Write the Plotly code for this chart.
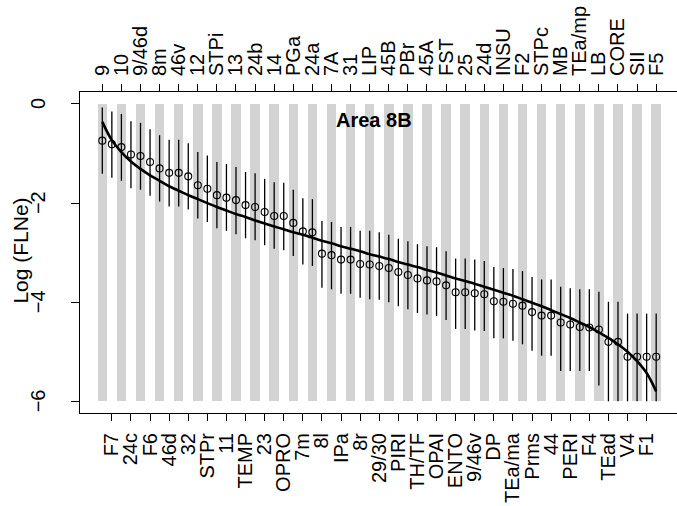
import plotly.graph_objects as go

# Source areas ordered by decreasing log(FLNe)
areas = ["9", "F7", "10", "24c", "9/46d", "F6", "8m", "46d", "46v", "32",
         "12", "STPr", "STPi", "11", "13", "TEMP", "24b", "23", "14", "OPRO",
         "PGa", "7m", "24a", "8l", "7A", "IPa", "31", "8r", "LIP", "29/30",
         "45B", "PIRI", "PBr", "TH/TF", "45A", "OPAI", "FST", "ENTO", "25", "9/46v",
         "24d", "DP", "INSU", "TEa/ma", "F2", "Prms", "STPc", "44", "MB", "PERI",
         "TEa/mp", "F4", "LB", "TEad", "CORE", "V4", "SII", "F1", "F5"]

# Mean log(FLNe) per area
mean_log = [-0.74, -0.81, -0.87, -1.02, -1.05, -1.17, -1.30, -1.39, -1.39, -1.46,
            -1.64, -1.71, -1.84, -1.89, -1.94, -2.04, -2.08, -2.18, -2.26, -2.26,
            -2.40, -2.57, -2.59, -3.02, -3.05, -3.14, -3.14, -3.23, -3.24, -3.27,
            -3.31, -3.39, -3.45, -3.52, -3.56, -3.58, -3.66, -3.80, -3.80, -3.82,
            -3.84, -3.98, -3.99, -4.03, -4.07, -4.20, -4.27, -4.27, -4.41, -4.45,
            -4.50, -4.51, -4.55, -4.80, -4.80, -5.10, -5.10, -5.10, -5.10]

# Upper and lower ends of the interval around each mean
upper_log = [-0.07, -0.15, -0.20, -0.35, -0.38, -0.51, -0.63, -0.72, -0.72, -0.79,
             -0.97, -1.04, -1.17, -1.21, -1.27, -1.37, -1.40, -1.51, -1.58, -1.59,
             -1.73, -1.90, -1.92, -2.36, -2.38, -2.48, -2.48, -2.56, -2.56, -2.59,
             -2.64, -2.72, -2.77, -2.83, -2.87, -2.89, -2.97, -3.12, -3.12, -3.14,
             -3.17, -3.29, -3.31, -3.33, -3.37, -3.49, -3.54, -3.54, -3.69, -3.72,
             -3.74, -3.74, -3.79, -3.99, -3.99, -4.23, -4.23, -4.23, -4.23]

lower_log = [-1.41, -1.49, -1.55, -1.70, -1.73, -1.85, -1.97, -2.07, -2.07, -2.13,
             -2.31, -2.38, -2.51, -2.56, -2.63, -2.71, -2.75, -2.85, -2.92, -2.95,
             -3.07, -3.24, -3.27, -3.71, -3.74, -3.83, -3.83, -3.91, -3.94, -3.95,
             -4.00, -4.08, -4.14, -4.22, -4.25, -4.28, -4.36, -4.54, -4.54, -4.57,
             -4.58, -4.73, -4.73, -4.78, -4.85, -4.98, -5.08, -5.08, -5.39, -5.39,
             -5.39, -5.39, -5.68, -6.00, -6.00, -6.00, -6.00, -6.00, -6.00]

# Fitted model curve evaluated at each rank
fit_log = [-0.36, -0.73, -0.97, -1.16, -1.31, -1.44, -1.55, -1.66, -1.75, -1.84,
           -1.92, -2.00, -2.08, -2.15, -2.22, -2.28, -2.35, -2.41, -2.47, -2.53,
           -2.59, -2.64, -2.70, -2.76, -2.81, -2.87, -2.92, -2.97, -3.03, -3.08,
           -3.13, -3.19, -3.24, -3.29, -3.35, -3.40, -3.46, -3.52, -3.57, -3.63,
           -3.69, -3.75, -3.81, -3.87, -3.94, -4.01, -4.08, -4.16, -4.24, -4.32,
           -4.41, -4.50, -4.61, -4.72, -4.85, -5.00, -5.19, -5.43, -5.80]

y_ticks = [0, -2, -4, -6]
y_tick_text = ["0", "\u22122", "\u22124", "\u22126"]
band_top, band_bottom = 0, -6

rank = list(range(1, len(areas) + 1))
odd_rank = rank[0::2]
even_rank = rank[1::2]
odd_names = [areas[r - 1] for r in odd_rank]
even_names = [areas[r - 1] for r in even_rank]

FONT = "Liberation Sans, Arial, Helvetica, sans-serif"
X_RANGE = [-1.335, 61.18]
Y_RANGE = [-6.236, 0.242]
PLOT_LEFT, PLOT_WIDTH = 80, 597

fig = go.Figure()

# Alternating grey bands behind odd-ranked areas
fig.add_trace(go.Bar(
    x=odd_rank, y=[band_top - band_bottom] * len(odd_rank), base=band_bottom,
    width=1.0, marker=dict(color="#D3D3D3", line=dict(width=0)),
    hoverinfo="skip", showlegend=False,
))

# Means with interval bars
fig.add_trace(go.Scatter(
    x=rank, y=mean_log, mode="markers",
    marker=dict(symbol="circle-open", size=7, color="black", line=dict(width=1.1)),
    error_y=dict(type="data", symmetric=False,
                 array=[u - m for u, m in zip(upper_log, mean_log)],
                 arrayminus=[m - l for m, l in zip(mean_log, lower_log)],
                 width=0, thickness=1.3, color="black"),
    showlegend=False,
))

# Fitted curve
fig.add_trace(go.Scatter(
    x=rank, y=fit_log, mode="lines",
    line=dict(color="black", width=2.6, shape="spline"),
    hoverinfo="skip", showlegend=False,
))

# Invisible carrier so the top axis is drawn
fig.add_trace(go.Scatter(
    x=odd_rank, y=[mean_log[r - 1] for r in odd_rank], mode="markers",
    marker=dict(opacity=0), xaxis="x2", hoverinfo="skip", showlegend=False,
))

axis_common = dict(
    range=X_RANGE, tickmode="array", tickangle=-90, ticks="outside", ticklen=7,
    tickcolor="black", tickwidth=1, showline=True, linecolor="black", linewidth=1,
    showgrid=False, zeroline=False, tickfont=dict(family=FONT, size=20, color="black"),
)

# Rotated y tick labels, placed as text beside the axis
def px_to_paper(px):
    return (px - PLOT_LEFT) / PLOT_WIDTH

annotations = [
    dict(text=t, x=px_to_paper(38), y=v, xref="paper", yref="y",
         textangle=-90, showarrow=False, xanchor="center", yanchor="middle",
         font=dict(family=FONT, size=20, color="black"))
    for v, t in zip(y_ticks, y_tick_text)
]
annotations += [
    dict(text="<b>Area 8B</b>", x=29.45, y=-0.33, xref="x", yref="y",
         showarrow=False, xanchor="center", yanchor="middle",
         font=dict(family=FONT, size=20, color="black")),
    dict(text="Log (FLNe)", x=px_to_paper(20.7), y=0.505, xref="paper", yref="paper",
         textangle=-90, showarrow=False, xanchor="center", yanchor="middle",
         font=dict(family=FONT, size=21, color="black")),
]

fig.update_layout(
    width=677, height=506,
    margin=dict(l=PLOT_LEFT, r=0, t=92, b=93),
    plot_bgcolor="white", paper_bgcolor="white",
    font=dict(family=FONT, color="black"),
    bargap=0,
    xaxis=dict(tickvals=even_rank, ticktext=even_names, ticklabelstandoff=4, **axis_common),
    xaxis2=dict(tickvals=odd_rank, ticktext=odd_names, overlaying="x", side="top",
                ticklabelstandoff=4, **axis_common),
    yaxis=dict(range=Y_RANGE, tickmode="array", tickvals=y_ticks, showticklabels=False,
               ticks="outside", ticklen=8, tickcolor="black",
               showline=True, linecolor="black", linewidth=1, showgrid=False,
               zeroline=False),
    annotations=annotations,
)

fig.write_html("out.html")
